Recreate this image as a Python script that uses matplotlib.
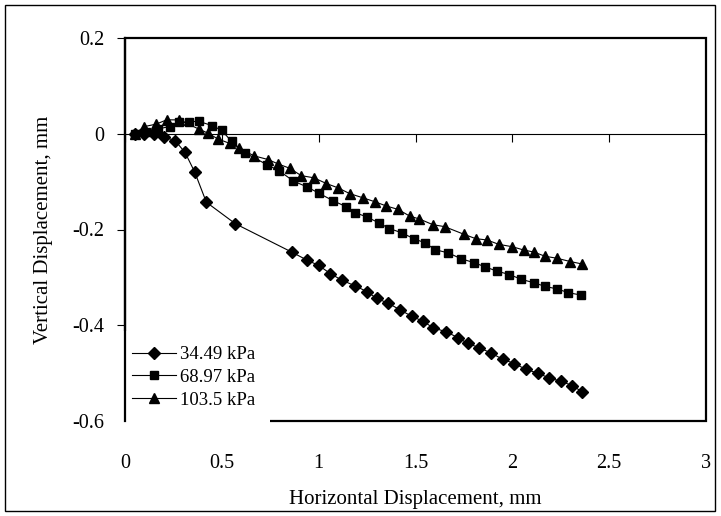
import matplotlib
matplotlib.use('Agg')
import matplotlib.pyplot as plt
from matplotlib.patches import Rectangle

plt.rcParams['font.family'] = ['Liberation Serif', 'DejaVu Serif']

# 34.49 kPa
x1 = [0.05, 0.10, 0.15, 0.20, 0.26, 0.31, 0.36, 0.42, 0.57, 0.86, 0.94, 1.00, 1.06, 1.12,
      1.19, 1.25, 1.30, 1.36, 1.42, 1.48, 1.54, 1.59, 1.66, 1.72, 1.77, 1.83, 1.89, 1.95,
      2.01, 2.07, 2.13, 2.19, 2.25, 2.31, 2.36]
y1 = [0.0, 0.0, 0.0, -0.006, -0.015, -0.039, -0.08, -0.143, -0.188, -0.247, -0.264, -0.275,
      -0.292, -0.306, -0.318, -0.33, -0.344, -0.354, -0.368, -0.381, -0.392, -0.405, -0.414,
      -0.426, -0.438, -0.447, -0.458, -0.471, -0.48, -0.492, -0.5, -0.51, -0.517, -0.526, -0.539]

# 68.97 kPa
x2 = [0.05, 0.11, 0.17, 0.23, 0.28, 0.33, 0.38, 0.45, 0.50, 0.55, 0.62, 0.735, 0.795, 0.87,
      0.94, 1.00, 1.075, 1.14, 1.19, 1.25, 1.31, 1.365, 1.43, 1.49, 1.55, 1.60, 1.67, 1.735,
      1.80, 1.86, 1.92, 1.985, 2.045, 2.11, 2.17, 2.23, 2.29, 2.355]
y2 = [0.0, 0.004, 0.01, 0.015, 0.024, 0.025, 0.026, 0.017, 0.007, -0.016, -0.04, -0.065,
      -0.077, -0.099, -0.111, -0.124, -0.14, -0.152, -0.165, -0.174, -0.186, -0.198, -0.207,
      -0.219, -0.228, -0.242, -0.249, -0.261, -0.269, -0.278, -0.287, -0.294, -0.304, -0.311,
      -0.319, -0.324, -0.332, -0.337]

# 103.5 kPa
x3 = [0.05, 0.10, 0.16, 0.215, 0.28, 0.38, 0.43, 0.48, 0.54, 0.59, 0.665, 0.74, 0.79, 0.85,
      0.91, 0.975, 1.04, 1.10, 1.16, 1.23, 1.29, 1.35, 1.41, 1.47, 1.52, 1.59, 1.65, 1.75,
      1.81, 1.87, 1.93, 2.00, 2.06, 2.11, 2.17, 2.23, 2.30, 2.36]
y3 = [0.0, 0.015, 0.02, 0.029, 0.029, 0.01, 0.001, -0.011, -0.02, -0.03, -0.046, -0.054,
      -0.063, -0.072, -0.0875, -0.092, -0.104, -0.113, -0.125, -0.134, -0.142, -0.151, -0.158,
      -0.172, -0.178, -0.19, -0.194, -0.21, -0.219, -0.222, -0.231, -0.236, -0.243, -0.247,
      -0.256, -0.26, -0.267, -0.272]

labels = ['34.49 kPa', '68.97 kPa', '103.5 kPa']
xticks = [0, 0.5, 1, 1.5, 2, 2.5, 3]
xticklabels = ['0', '0.5', '1', '1.5', '2', '2.5', '3']
yticks = [-0.6, -0.4, -0.2, 0, 0.2]
yticklabels = ['-0.6', '-0.4', '-0.2', '0', '0.2']

W, H = 721, 516
fig = plt.figure(figsize=(W / 100, H / 100), dpi=100)
fig.patches.append(Rectangle((5 / W, 5 / H), (715 - 5) / W, (511 - 5) / H,
                             transform=fig.transFigure, fill=False, ec='k', lw=1.0))

ax = fig.add_axes([125 / W, 1 - 421 / H, 581 / W, 383 / H])

ax.plot(x1, y1, color='k', lw=0.8, marker='D', ms=6, label=labels[0])
ax.plot(x2, y2, color='k', lw=0.8, marker='s', ms=6, label=labels[1])
ax.plot(x3, y3, color='k', lw=0.8, marker='^', ms=7.5, label=labels[2])

ax.set_xlim(0, 3)
ax.set_ylim(-0.6, 0.2)

for s in ['top', 'right']:
    ax.spines[s].set_visible(False)
ax.spines['left'].set_linewidth(1.6)
ax.spines['left'].set_zorder(3)
ax.spines['bottom'].set_position(('data', 0))
ax.spines['bottom'].set_linewidth(0.8)

ax.set_xticks(xticks)
ax.tick_params(axis='x', direction='out', length=6, width=0.8, labelbottom=False)
ax.set_yticks(yticks)
ax.set_yticklabels(yticklabels)
ax.tick_params(axis='y', direction='out', length=6, width=0.8, labelsize=14.5, pad=9)

ax.add_patch(Rectangle((0, 0), 1, 1, transform=ax.transAxes, fill=False, ec='k',
                       lw=1.6, zorder=2.3, clip_on=False))

sec = ax.secondary_xaxis('bottom')
sec.set_xticks(xticks, labels=xticklabels)
sec.tick_params(length=0, pad=24, labelsize=14.5)
sec.spines['bottom'].set_visible(False)
sec.set_xlabel('Horizontal Displacement, mm', fontsize=15, labelpad=12)

ax.set_ylabel('Vertical Displacement, mm', fontsize=15, labelpad=14)

leg = ax.legend(loc='lower left', bbox_to_anchor=(-0.0145, -0.008), frameon=True,
                framealpha=1, edgecolor='none', fancybox=False, fontsize=13.5,
                handlelength=2.35, handletextpad=0.2, labelspacing=0.3, borderpad=0.82,
                borderaxespad=0, numpoints=1)
leg.set_zorder(2.4)

fig.savefig('out.png', dpi=100)
